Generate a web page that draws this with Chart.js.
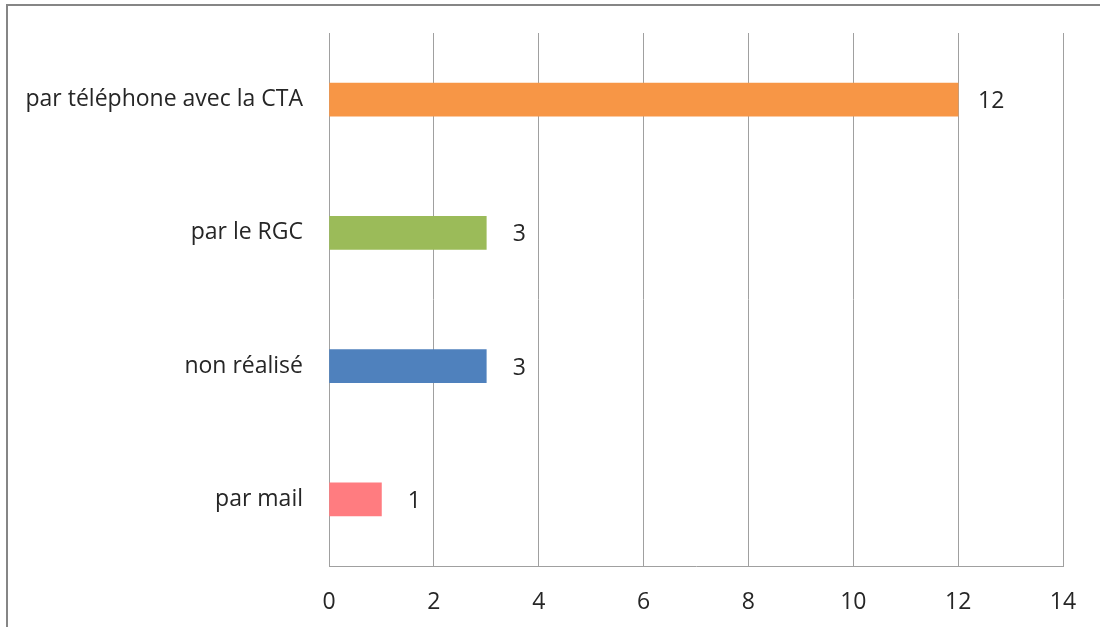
<!DOCTYPE html>
<html>
<head>
<meta charset="utf-8">
<script src="https://cdn.jsdelivr.net/npm/chart.js@4/dist/chart.umd.min.js"></script>
<style>
  html, body { margin: 0; padding: 0; background: #fff; }
  #wrap { position: relative; width: 1100px; height: 627px; }
  #frame { position: absolute; left: 6px; top: 4px; right: 0; bottom: 0;
           border-left: 2px solid #868686; border-top: 2px solid #868686; }
  canvas { position: absolute; left: 0; top: 0; }
</style>
</head>
<body>
<div id="wrap">
  <div id="frame"></div>
  <canvas id="barChart" width="1100" height="627"></canvas>
</div>
<script>
// categories from top to bottom
const categories = ['par téléphone avec la CTA', 'par le RGC', 'non réalisé', 'par mail'];
const values = [12, 3, 3, 1];
const barColors = ['#F79646', '#9BBB59', '#4F81BD', '#FF7C80'];
const xTicks = [0, 2, 4, 6, 8, 10, 12, 14];

const FONT = '"Open Sans", Lato, sans-serif';
const FONT_SIZE = 23;

// value labels right of each bar
const valueLabels = {
    id: 'valueLabels',
    afterDatasetsDraw(chart) {
        const c = chart.ctx;
        const meta = chart.getDatasetMeta(0);
        c.save();
        c.font = FONT_SIZE + 'px ' + FONT;
        c.fillStyle = '#262626';
        c.textAlign = 'center';
        c.textBaseline = 'middle';
        meta.data.forEach((bar, i) => {
            c.fillText(String(values[i]), bar.x + 33, bar.y + 2);
        });
        c.restore();
    }
};

const ctx = document.getElementById('barChart').getContext('2d');
const barChart = new Chart(ctx, {
    type: 'bar',
    data: {
        labels: categories,
        datasets: [{
            data: values,
            backgroundColor: barColors,
            borderWidth: 0,
            barThickness: 33
        }]
    },
    options: {
        indexAxis: 'y',
        responsive: false,
        animation: false,
        layout: { padding: { top: 33, right: 37, left: 0, bottom: 0 } },
        plugins: {
            legend: { display: false },
            tooltip: { enabled: false }
        },
        scales: {
            x: {
                min: 0,
                max: 14,
                afterBuildTicks(scale) {
                    scale.ticks = xTicks.map(v => ({ value: v }));
                },
                afterFit(scale) { scale.height = 61; },
                grid: { color: '#A0A0A0', lineWidth: 1, drawTicks: false },
                border: { display: true, color: '#A0A0A0', width: 1 },
                ticks: { color: '#262626', padding: 23, font: { family: FONT, size: FONT_SIZE } }
            },
            y: {
                afterFit(scale) {
                    scale.width = 329;
                    scale.paddingTop = 0;
                    scale.paddingBottom = 0;
                },
                grid: { display: false, drawTicks: false },
                border: { display: true, color: '#A0A0A0', width: 1 },
                ticks: { color: '#262626', padding: 26, font: { family: FONT, size: FONT_SIZE } }
            }
        }
    },
    plugins: [valueLabels]
});
</script>
</body>
</html>
